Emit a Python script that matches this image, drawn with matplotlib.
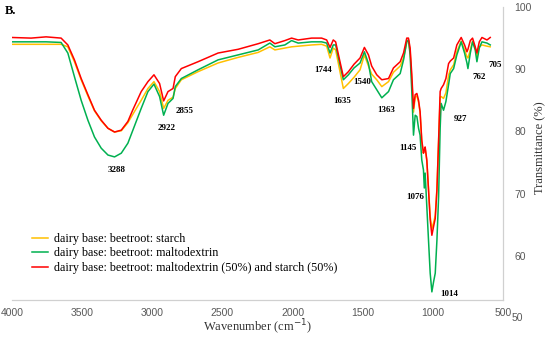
import matplotlib
matplotlib.use("Agg")
import matplotlib.pyplot as plt

# wavenumber grid (cm-1) and transmittance (%)
wavenumber = [4000, 3864, 3757, 3650, 3602, 3555, 3507, 3459, 3412, 3364,
              3316, 3269, 3221, 3174, 3140, 3079, 3031, 2988, 2948, 2919,
              2888, 2852, 2836, 2793, 2674, 2531, 2388, 2245, 2162, 2126,
              2055, 2007, 1960, 1864, 1793, 1757, 1733, 1710, 1693, 1662,
              1638, 1602, 1562, 1519, 1488, 1459, 1436, 1400, 1364, 1316,
              1281, 1233, 1209, 1186, 1174, 1162, 1150, 1138, 1126, 1114,
              1102, 1091, 1079, 1067, 1061, 1055, 1043, 1031, 1019, 1007,
              995, 983, 971, 959, 948, 941, 924, 907, 888, 876,
              852, 829, 798, 774, 757, 750, 733, 717, 698, 686,
              669, 650, 614, 591]

starch = [94.0, 94.0, 94.0, 94.0, 93.6, 91.2, 88.3, 85.7, 83.3, 81.7,
          80.5, 79.9, 80.1, 81.4, 82.7, 85.0, 86.9, 88.0, 86.4, 83.7,
          85.0, 85.5, 86.9, 88.3, 89.6, 91.0, 91.9, 92.7, 93.6, 93.1,
          93.4, 93.6, 93.7, 93.9, 94.0, 93.7, 91.8, 93.4, 93.1, 89.6,
          86.9, 87.7, 88.7, 89.9, 92.3, 90.5, 89.2, 88.3, 87.2, 88.0,
          89.5, 90.5, 91.8, 94.4, 94.7, 92.8, 88.3, 83.1, 85.5, 85.7,
          84.7, 83.0, 78.3, 76.5, 77.0, 77.3, 75.2, 70.8, 66.3, 64.4,
          65.3, 66.5, 70.8, 78.4, 85.5, 85.6, 85.3, 86.2, 89.0, 89.9,
          90.7, 92.8, 94.5, 93.1, 92.0, 91.8, 93.1, 94.5, 93.4, 92.0,
          93.6, 93.9, 93.7, 93.6]

maltodextrin = [94.4, 94.4, 94.4, 94.3, 92.6, 88.8, 85.0, 81.8, 79.1, 77.3,
                76.2, 75.9, 76.5, 78.1, 80.1, 83.7, 86.4, 87.6, 85.6, 82.6,
                84.5, 85.3, 87.2, 88.5, 89.9, 91.5, 92.3, 93.1, 94.2, 93.6,
                93.9, 94.6, 94.2, 94.4, 94.4, 94.2, 92.6, 93.9, 93.9, 90.7,
                88.3, 89.1, 90.2, 91.0, 92.8, 90.9, 88.0, 86.7, 85.4, 86.4,
                88.3, 89.3, 91.5, 94.4, 94.7, 92.3, 86.4, 79.4, 82.6, 82.4,
                80.5, 79.4, 75.4, 73.8, 70.9, 73.3, 67.9, 62.5, 57.2, 54.2,
                55.8, 57.2, 62.5, 69.5, 80.5, 84.5, 83.4, 84.8, 87.5, 89.3,
                90.1, 92.3, 94.4, 92.6, 91.0, 90.1, 92.6, 94.4, 93.1, 91.2,
                93.4, 94.4, 94.2, 93.9]

mix = [95.1, 95.0, 95.2, 95.0, 93.9, 91.5, 88.5, 85.9, 83.4, 81.8,
       80.5, 79.9, 80.2, 81.6, 83.4, 86.4, 88.0, 89.1, 87.7, 84.9,
       86.4, 86.9, 88.8, 90.1, 91.2, 92.6, 93.2, 94.1, 94.7, 94.1,
       94.6, 95.0, 94.7, 95.0, 95.0, 94.7, 93.5, 94.7, 94.4, 91.2,
       88.8, 89.6, 90.8, 91.8, 93.5, 92.3, 90.5, 89.1, 88.3, 88.5,
       90.2, 91.2, 92.6, 95.0, 95.0, 93.4, 89.1, 83.7, 85.9, 86.1,
       85.0, 83.2, 78.6, 76.5, 77.0, 77.5, 75.4, 70.6, 65.8, 63.3,
       64.7, 66.0, 70.6, 78.6, 86.4, 86.9, 87.5, 88.5, 90.9, 91.3,
       91.8, 93.9, 95.1, 93.9, 92.8, 93.2, 94.6, 95.0, 93.6, 92.6,
       94.4, 95.1, 94.7, 95.1]

series_labels = ["dairy base: beetroot: starch",
                 "dairy base: beetroot: maltodextrin",
                 "dairy base: beetroot: maltodextrin (50%) and starch (50%)"]
series_colors = ["#FFC000", "#00B050", "#FF0000"]

# band labels and where they sit
peak_labels = ["3288", "2922", "2855", "1744", "1635", "1540", "1363",
               "1145", "1076", "1014", "927", "762", "705"]
peak_label_x = [3257, 2900, 2770, 1779, 1645, 1507, 1336,
                1179, 1129, 886, 805, 669, 557]
peak_label_y = [73.8, 80.6, 83.2, 89.9, 84.9, 88.0, 83.4,
                77.3, 69.5, 53.9, 82.0, 88.7, 90.7]

serif = "Liberation Serif"
sans = "Liberation Sans"
grey = "#595959"

fig = plt.figure(figsize=(5.5, 3.39), dpi=100)
ax = fig.add_axes([12 / 550, 1 - 300 / 339, 491 / 550, 293 / 339])

for values, label, color in zip([starch, maltodextrin, mix], series_labels, series_colors):
    ax.plot(wavenumber, values, color=color, lw=1.1, label=label)

ax.set_xlim(4000, 500)
ax.set_ylim(100 - 293 / 6.22, 100)
ax.set_xticks([4000, 3500, 3000, 2500, 2000, 1500, 1000, 500])
ax.set_yticks([60, 70, 80, 90, 100])

ax.yaxis.tick_right()
ax.tick_params(length=0, labelsize=7.5, labelcolor=grey)
ax.tick_params(axis="x", pad=6)
ax.tick_params(axis="y", pad=8)
for lab in ax.get_xticklabels() + ax.get_yticklabels():
    lab.set_fontfamily(sans)
# the 50 label hangs below the x axis, as in the original
ax.text(1.0 + 9 / 491, 50, "50", transform=ax.get_yaxis_transform(), ha="left",
        va="center", fontsize=7.5, color=grey, family=sans, clip_on=False)

for side in ["top", "left"]:
    ax.spines[side].set_visible(False)
for side in ["bottom", "right"]:
    ax.spines[side].set_color("#D0D0D0")
    ax.spines[side].set_linewidth(0.9)

fig.text(257 / 550, 1 - 327 / 339, "Wavenumber (cm$^{-1}$)", family=serif, fontsize=9,
         color="#333333", ha="center", va="center")
fig.text(540 / 550, 1 - 148 / 339, "Transmittance (%)", family=serif, fontsize=9,
         color="#333333", ha="center", va="center", rotation=90)

for txt, x, y in zip(peak_labels, peak_label_x, peak_label_y):
    ax.text(x, y, txt, ha="center", va="center", fontsize=6.5,
            fontweight="bold", family=serif)

ax.legend(loc="upper left", bbox_to_anchor=(20 / 491, 1 - 226 / 293), frameon=False,
          prop={"family": serif, "size": 8.7}, handlelength=1.3, handletextpad=0.5,
          labelspacing=0.2, borderpad=0, borderaxespad=0)

fig.text(5 / 550, 1 - 11 / 339, "B.", family=serif, fontweight="bold", fontsize=9,
         va="center", ha="left")

fig.savefig("out.png", dpi=100)
